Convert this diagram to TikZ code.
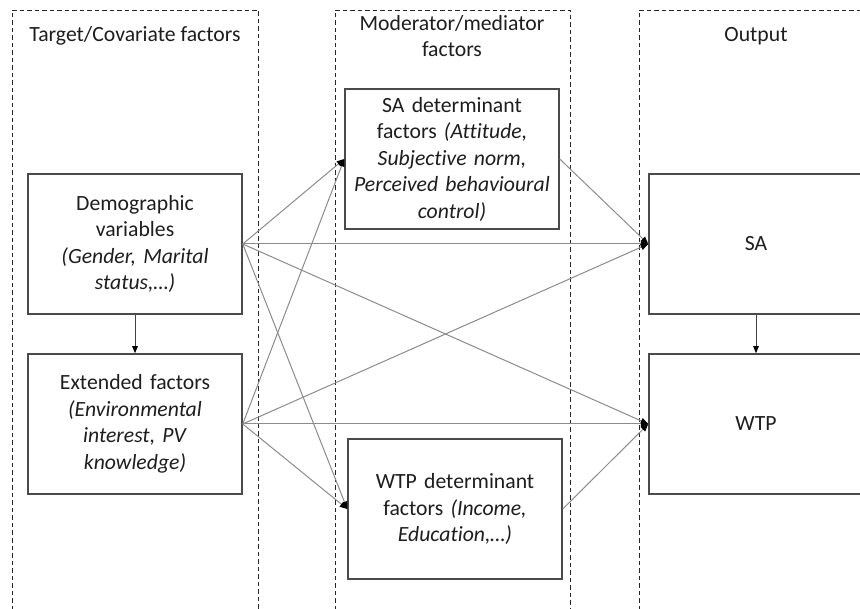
\documentclass[tikz,border=0pt]{standalone}
\usepackage{fontspec}
\setmainfont{Carlito}[Ligatures=NoCommon]
\usetikzlibrary{arrows.meta}
\definecolor{boxc}{HTML}{4A4A4A}
\definecolor{linec}{HTML}{8C8C8C}
\definecolor{txtc}{HTML}{1E1E1E}
\begin{document}
\begin{tikzpicture}[x=1pt,y=-1pt,
  box/.style={draw=boxc, line width=1.5pt, minimum width=214pt, minimum height=140pt,
    inner sep=0pt, text width=212pt, align=center, text=txtc,
    font=\fontsize{21.7}{26.5}\selectfont},
  titlebox/.style={inner sep=0pt, align=center, text=txtc,
    font=\fontsize{21.7}{26.5}\selectfont},
  col/.style={draw=black!85, dash pattern=on 4.5pt off 3pt, line width=0.9pt},
  link/.style={draw=linec, line width=1pt,
    -{Triangle[length=7.5pt,width=6pt,color=black]}},
  vlink/.style={draw=black!75, line width=0.9pt,
    -{Triangle[length=7pt,width=5.5pt,color=black]}}
]
\useasboundingbox (0,0) rectangle (860,609);
\fill[white] (0,0) rectangle (860,609);
\begin{scope}
\clip (0,0) rectangle (860,609);
\draw[col] (12,640) -- (12,10) -- (258,10) -- (258,640);
\draw[col] (335,640) -- (335,10) -- (570,10) -- (570,640);
\draw[col] (639,640) -- (639,10) -- (900,10);
\end{scope}

\node[titlebox] (t1) at (135,36) {Target/Covariate factors};
\node[titlebox] (t2) at (452,36) {Moderator/mediator\\factors};
\node[titlebox] (t3) at (756,36) {Output};

\node[box] (demo) at (135,244) {Demographic\\variables\\\textit{(Gender, Marital}\\\textit{status,…)}};
\node[box] (ext) at (135,424) {Extended factors\\\textit{(Environmental}\\\textit{interest, PV}\\\textit{knowledge)}};
\node[box] (sad) at (452,159) {SA determinant\\factors \textit{(Attitude,}\\\textit{Subjective norm,}\\\textit{Perceived behavioural}\\\textit{control)}};
\node[box] (wtpd) at (455,509) {WTP determinant\\factors \textit{(Income,}\\\textit{Education,…)}};
\node[box] (sa) at (756,244) {SA};
\node[box] (wtp) at (756,424) {WTP};

\draw[vlink] (demo.south) -- (ext.north);
\draw[vlink] (sa.south) -- (wtp.north);

\draw[link] (demo.east) -- (sad.west);
\draw[link] (demo.east) -- (sa.west);
\draw[link] (demo.east) -- (wtp.west);
\draw[link] (demo.east) -- (wtpd.west);
\draw[link] (ext.east) -- (sad.west);
\draw[link] (ext.east) -- (sa.west);
\draw[link] (ext.east) -- (wtp.west);
\draw[link] (ext.east) -- (wtpd.west);
\draw[link] (sad.east) -- (sa.west);
\draw[link] (wtpd.east) -- (wtp.west);
\end{tikzpicture}
\end{document}
